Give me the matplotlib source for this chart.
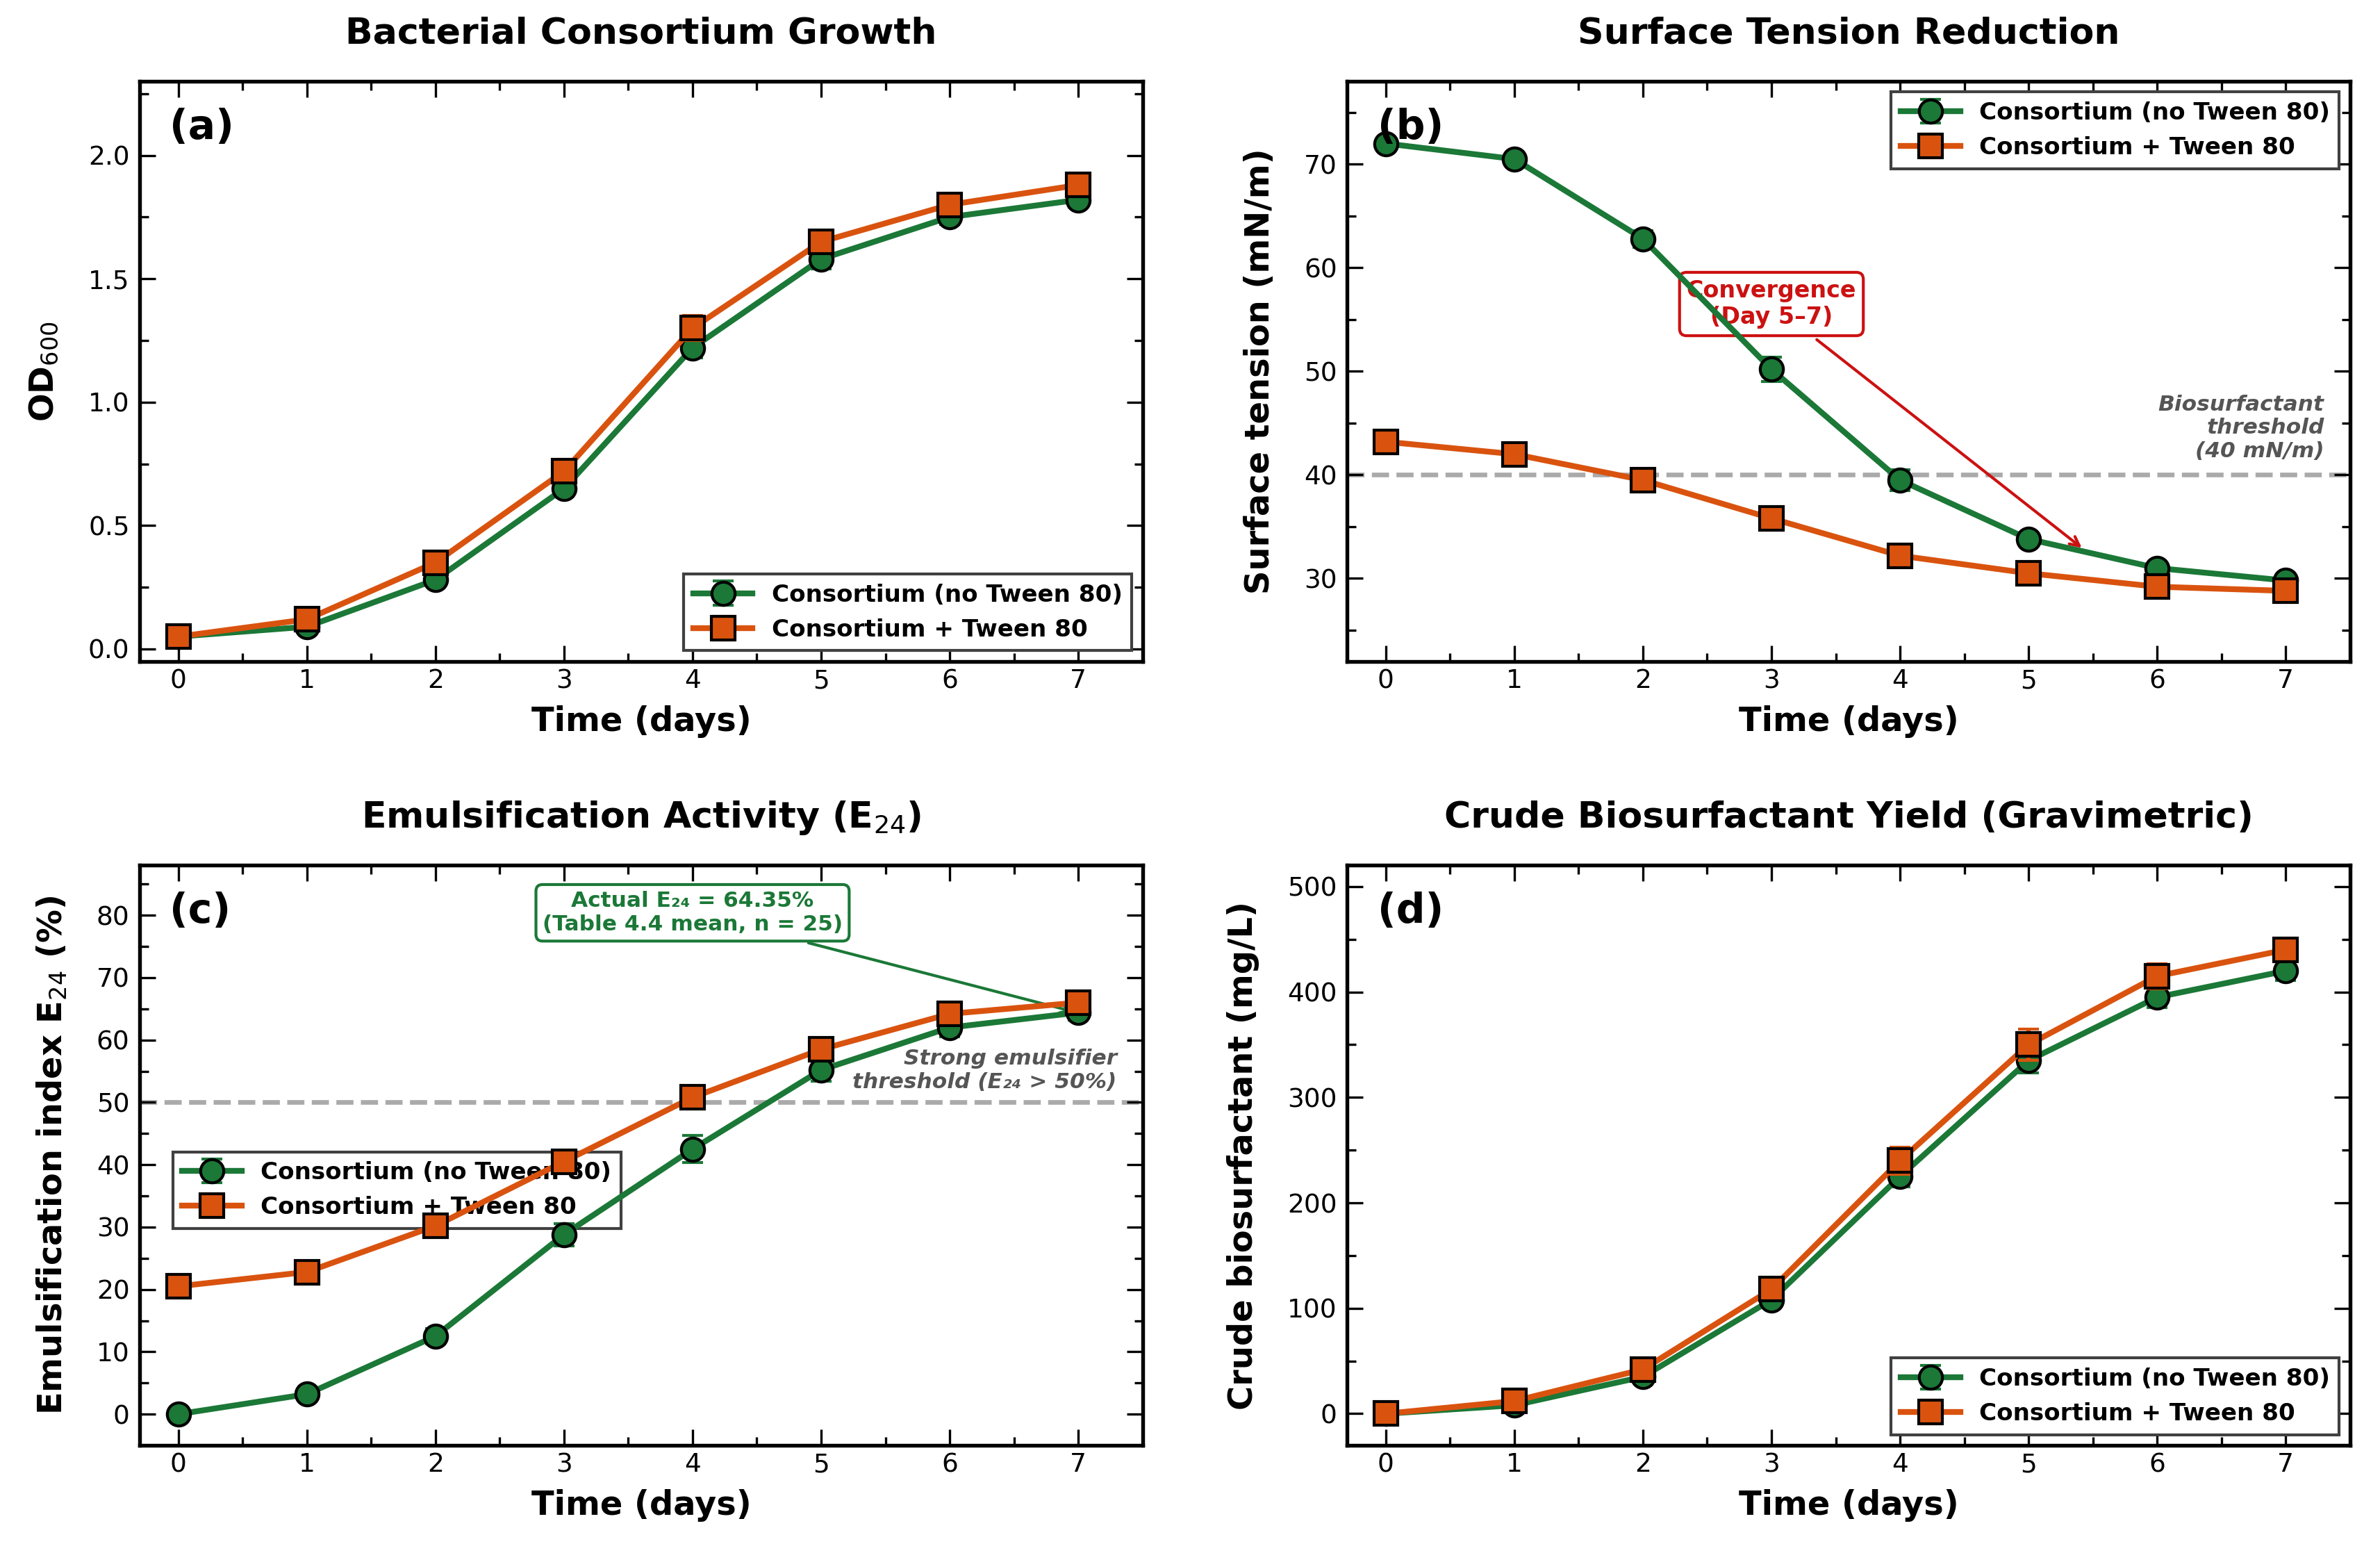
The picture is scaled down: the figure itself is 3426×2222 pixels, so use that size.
import matplotlib
matplotlib.use("Agg")
import matplotlib.pyplot as plt
from matplotlib.ticker import MultipleLocator

# time axis
days = [0, 1, 2, 3, 4, 5, 6, 7]

# (a) OD600
od_no = [0.05, 0.09, 0.28, 0.65, 1.22, 1.58, 1.75, 1.82]
od_no_err = [0.01, 0.01, 0.02, 0.03, 0.04, 0.04, 0.03, 0.03]
od_tw = [0.05, 0.12, 0.35, 0.72, 1.30, 1.65, 1.80, 1.88]
od_tw_err = [0.01, 0.01, 0.02, 0.03, 0.05, 0.04, 0.03, 0.03]

# (b) surface tension (mN/m)
st_no = [72.0, 70.5, 62.8, 50.2, 39.5, 33.8, 31.0, 29.8]
st_no_err = [0.5, 0.5, 0.8, 1.2, 1.0, 0.6, 0.5, 0.4]
st_tw = [43.2, 42.0, 39.5, 35.8, 32.2, 30.5, 29.2, 28.8]
st_tw_err = [0.5, 0.5, 0.5, 0.5, 0.5, 0.4, 0.4, 0.4]

# (c) E24 (%)
e24_no = [0.0, 3.2, 12.5, 28.8, 42.5, 55.2, 62.0, 64.4]
e24_no_err = [0.3, 0.6, 1.2, 1.8, 2.2, 1.8, 1.5, 1.2]
e24_tw = [20.5, 22.8, 30.2, 40.5, 50.8, 58.5, 64.2, 66.0]
e24_tw_err = [0.5, 0.6, 0.8, 1.0, 1.5, 1.4, 1.2, 1.0]

# (d) crude biosurfactant (mg/L)
y_no = [0, 8, 35, 108, 225, 335, 395, 420]
y_no_err = [0.5, 1.5, 3, 6, 10, 12, 10, 9]
y_tw = [0, 12, 42, 118, 240, 350, 415, 440]
y_tw_err = [0.5, 2, 4, 7, 13, 15, 12, 10]

GREEN = "#1b7837"
ORANGE = "#d9530f"
lab_no = "Consortium (no Tween 80)"
lab_tw = "Consortium + Tween 80"

plt.rcParams["font.family"] = ["DejaVu Sans"]

fig, axes = plt.subplots(2, 2, figsize=(11.42, 7.4067), dpi=300)
fig.subplots_adjust(left=0.0587, right=0.9874, top=0.9473, bottom=0.0639,
                    wspace=0.204, hspace=0.352)
ax_a, ax_b, ax_c, ax_d = axes.flatten()


def draw(ax, no, no_err, tw, tw_err):
    ax.errorbar(days, no, yerr=no_err, color=GREEN, lw=2.0, marker="o", ms=8,
                mfc=GREEN, mec="black", mew=1.0, capsize=3.5, elinewidth=1.5,
                capthick=1.5, label=lab_no, zorder=3)
    ax.errorbar(days, tw, yerr=tw_err, color=ORANGE, lw=2.0, marker="s", ms=8,
                mfc=ORANGE, mec="black", mew=1.0, capsize=3.5, elinewidth=1.5,
                capthick=1.5, label=lab_tw, zorder=4)


def style(ax, title, ylabel, ylim, major, minor, letter):
    ax.set_title(title, fontsize=12.5, fontweight="bold", pad=13)
    ax.set_xlabel("Time (days)", fontsize=11.5, fontweight="bold", labelpad=4)
    ax.set_ylabel(ylabel, fontsize=11.5, fontweight="bold", labelpad=9.5)
    ax.set_xlim(-0.3, 7.5)
    ax.set_ylim(*ylim)
    ax.xaxis.set_major_locator(MultipleLocator(1))
    ax.xaxis.set_minor_locator(MultipleLocator(0.5))
    ax.yaxis.set_major_locator(MultipleLocator(major))
    ax.yaxis.set_minor_locator(MultipleLocator(minor))
    ax.tick_params(which="both", direction="in", top=True, right=True,
                   width=0.8, labelsize=9)
    ax.tick_params(axis="x", which="both", pad=2.5)
    ax.tick_params(axis="y", which="both", pad=3.5)
    ax.tick_params(which="major", length=5.5)
    ax.tick_params(which="minor", length=3)
    for s in ax.spines.values():
        s.set_linewidth(1.3)
    ax.text(0.03, 0.955, letter, transform=ax.transAxes, fontsize=14,
            fontweight="bold", va="top", ha="left", zorder=6)


def legend(ax, pad=0.45, **kw):
    leg = ax.legend(prop={"weight": "bold", "size": 8.2}, fancybox=False,
                    edgecolor="0.25", framealpha=1, borderaxespad=pad,
                    handlelength=2.5, **kw)
    leg.get_frame().set_linewidth(1.0)
    return leg


# (a)
draw(ax_a, od_no, od_no_err, od_tw, od_tw_err)
style(ax_a, "Bacterial Consortium Growth", "OD$_{600}$", (-0.05, 2.3), 0.5, 0.25, "(a)")
legend(ax_a, loc="lower right")

# (b)
ax_b.axhline(40, color="#aaaaaa", lw=1.6, ls="--", zorder=1)
draw(ax_b, st_no, st_no_err, st_tw, st_tw_err)
style(ax_b, "Surface Tension Reduction", "Surface tension (mN/m)", (22, 78), 10, 5, "(b)")
legend(ax_b, loc="upper right")
ax_b.text(7.3, 41.3, "Biosurfactant\nthreshold\n(40 mN/m)", ha="right", va="bottom",
          fontsize=7.5, fontstyle="italic", fontweight="bold", color="#555555")
ax_b.annotate("Convergence\n(Day 5–7)", xy=(5.45, 32.6), xytext=(3.0, 56.5),
              ha="center", va="center", fontsize=8, fontweight="bold", color="#cc1111",
              bbox=dict(boxstyle="round,pad=0.3", fc="white", ec="#cc1111", lw=1.0),
              arrowprops=dict(arrowstyle="->", color="#cc1111", lw=1.0,
                              mutation_scale=8),
              zorder=2)

# (c)
ax_c.axhline(50, color="#aaaaaa", lw=1.6, ls="--", zorder=1)
draw(ax_c, e24_no, e24_no_err, e24_tw, e24_tw_err)
style(ax_c, "Emulsification Activity (E$_{24}$)", "Emulsification index E$_{24}$ (%)",
      (-5, 88), 10, 5, "(c)")
leg_c = legend(ax_c, pad=0, loc="center left", bbox_to_anchor=(0.033, 0.44))
leg_c.set_zorder(1.5)
ax_c.text(7.3, 51.6, "Strong emulsifier\nthreshold (E₂₄ > 50%)", ha="right", va="bottom",
          fontsize=7.5, fontstyle="italic", fontweight="bold", color="#555555")
ax_c.annotate("Actual E₂₄ = 64.35%\n(Table 4.4 mean, n = 25)", xy=(7, 64.35),
              xytext=(4.0, 80.4), ha="center", va="center", fontsize=7.5,
              fontweight="bold", color=GREEN,
              bbox=dict(boxstyle="round,pad=0.3", fc="white", ec=GREEN, lw=1.0),
              arrowprops=dict(arrowstyle="->", color=GREEN, lw=1.0,
                              mutation_scale=8))

# (d)
draw(ax_d, y_no, y_no_err, y_tw, y_tw_err)
style(ax_d, "Crude Biosurfactant Yield (Gravimetric)", "Crude biosurfactant (mg/L)",
      (-30, 520), 100, 50, "(d)")
legend(ax_d, loc="lower right")

fig.savefig("out.png", dpi=300)
